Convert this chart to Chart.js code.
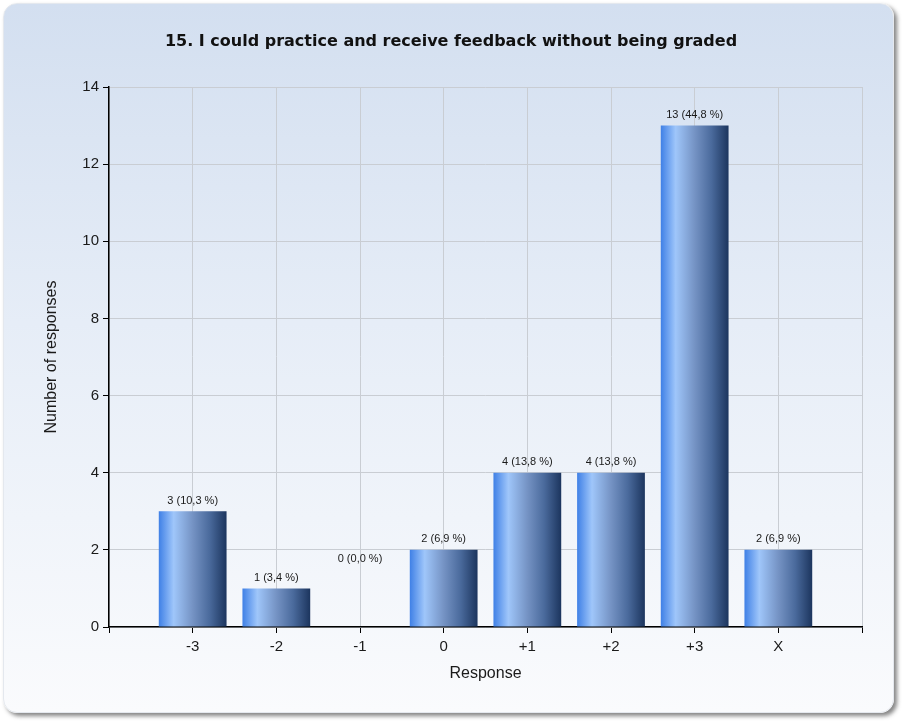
<!DOCTYPE html>
<html>
<head>
<meta charset="utf-8">
<script src="https://cdn.jsdelivr.net/npm/chart.js@4/dist/chart.umd.min.js"></script>
<style>
  html, body { margin: 0; padding: 0; background: #ffffff; }
  #wrap { position: relative; width: 906px; height: 725px; overflow: hidden; }
  #card {
    position: absolute; left: 3px; top: 3px; width: 891px; height: 710px;
    border-radius: 14px;
    background: linear-gradient(to bottom, #d3dff0 0%, #e6edf7 45%, #fafbfd 100%);
    box-shadow: 3px 3px 4px rgba(110,110,110,0.85);
    border: 1px solid #e4e8ee;
    box-sizing: border-box;
  }
  #c { position: absolute; left: 0; top: 0; }
</style>
</head>
<body>
<div id="wrap">
  <div id="card"></div>
  <canvas id="c" width="906" height="725"></canvas>
</div>
<script>
const titleText = "15. I could practice and receive feedback without being graded";
const xAxisTitle = "Response";
const yAxisTitle = "Number of responses";
const categories = ["", "-3", "-2", "-1", "0", "+1", "+2", "+3", "X", ""];
const counts = [null, 3, 1, 0, 2, 4, 4, 13, 2, null];
const percentLabels = ["", "10,3", "3,4", "0,0", "6,9", "13,8", "13,8", "44,8", "6,9", ""];
const yTicks = [0, 2, 4, 6, 8, 10, 12, 14];

const BAR_FRACTION = 0.81;

function barGradient(ctx) {
  const chart = ctx.chart;
  const xs = chart.scales && chart.scales.x;
  if (!xs || !chart.chartArea) return '#5b8fd8';
  const step = xs.width / (categories.length - 1);
  const cx = xs.getPixelForValue(ctx.dataIndex);
  const half = step * BAR_FRACTION / 2;
  const g = chart.ctx.createLinearGradient(cx - half, 0, cx + half, 0);
  g.addColorStop(0.0, '#3f80e6');
  g.addColorStop(0.22, '#9fc6fa');
  g.addColorStop(0.5, '#7593c4');
  g.addColorStop(0.75, '#4a6a9c');
  g.addColorStop(1.0, '#1c355e');
  return g;
}

const textPlugin = {
  id: 'texts',
  afterDatasetsDraw(chart) {
    const c = chart.ctx;
    const xs = chart.scales.x, ys = chart.scales.y;
    const area = chart.chartArea;
    c.save();
    // value labels
    c.font = '11px "Liberation Sans", Arial, sans-serif';
    c.fillStyle = '#1a1a1a';
    c.textAlign = 'center';
    c.textBaseline = 'bottom';
    counts.forEach((v, i) => {
      if (v === null) return;
      const anchor = v === 0 ? 1.5 : v;
      const x = xs.getPixelForValue(i);
      const y = ys.getPixelForValue(anchor) - 5;
      c.fillText(v + ' (' + percentLabels[i] + ' %)', x, y);
    });
    // title
    c.font = 'bold 16px "DejaVu Sans", Verdana, sans-serif';
    c.fillStyle = '#111111';
    c.textBaseline = 'middle';
    c.fillText(titleText, 451, 42);
    // x axis title
    c.font = '16px "Liberation Sans", Arial, sans-serif';
    c.fillStyle = '#1a1a1a';
    c.fillText(xAxisTitle, (area.left + area.right) / 2, 674);
    // y axis title
    c.translate(52, (area.top + area.bottom) / 2);
    c.rotate(-Math.PI / 2);
    c.fillText(yAxisTitle, 0, 0);
    c.restore();
  }
};

new Chart(document.getElementById('c'), {
  type: 'bar',
  data: {
    labels: categories,
    datasets: [{
      data: counts,
      backgroundColor: barGradient,
      borderWidth: 0,
      categoryPercentage: 1,
      barPercentage: BAR_FRACTION
    }]
  },
  options: {
    responsive: false,
    animation: false,
    devicePixelRatio: 1,
    layout: { padding: { left: 0, top: 87, right: 44, bottom: 0 } },
    plugins: { legend: { display: false }, title: { display: false }, tooltip: { enabled: false } },
    scales: {
      x: {
        offset: false,
        grid: {
          offset: false,
          color: '#c9cdd3',
          lineWidth: 1,
          tickColor: '#000000',
          tickLength: 6,
          drawOnChartArea: true
        },
        border: { color: '#000000', width: 1.5 },
        ticks: {
          color: '#1a1a1a',
          font: { family: '"Liberation Sans", Arial, sans-serif', size: 15 },
          padding: 5,
          maxRotation: 0,
          autoSkip: false
        },
        afterFit(scale) { scale.height = 98; }
      },
      y: {
        min: 0, max: 14,
        afterBuildTicks(scale) { scale.ticks = yTicks.map(v => ({ value: v })); },
        grid: {
          color: '#c9cdd3',
          lineWidth: 1,
          tickColor: '#000000',
          tickLength: 6
        },
        border: { color: '#000000', width: 1.5 },
        ticks: {
          color: '#1a1a1a',
          font: { family: '"Liberation Sans", Arial, sans-serif', size: 15 },
          padding: 4
        },
        afterFit(scale) { scale.width = 109; }
      }
    }
  },
  plugins: [textPlugin]
});
</script>
</body>
</html>
